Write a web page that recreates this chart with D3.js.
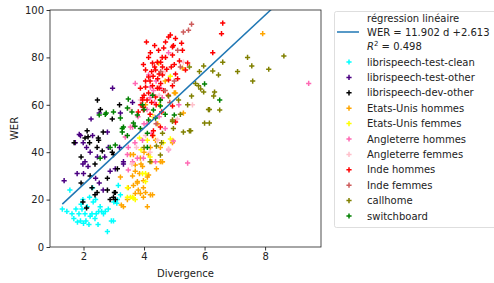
<!DOCTYPE html>
<html>
<head>
<meta charset="utf-8">
<script src="https://cdn.jsdelivr.net/npm/d3@7"></script>
<style>
  body { margin: 0; background: #fff; }
  text { font-family: "DejaVu Sans", sans-serif; fill: #222; }
</style>
</head>
<body>
<svg width="494" height="283"></svg>
<script>
// data: [divergence, WER] per series
var cleanPts = [[1.30,16],[1.45,15],[1.55,24],[1.62,14],[1.68,12],[1.75,16],[1.80,10.5],[1.85,14],[1.90,11],[1.95,16],[1.98,20],[2.05,14],[2.08,11],[2.12,17],[2.18,9.5],[2.22,13],[2.28,14],[2.32,19],[2.38,12],[2.42,14],[2.48,9.5],[2.50,15],[2.55,17],[2.60,15],[2.66,14],[2.72,15],[2.79,6.5],[2.82,16],[2.92,11],[3.00,19],[3.10,18.5],[3.15,26],[3.22,22],[2.20,21],[2.30,25],[1.92,18],[2.00,10],[2.40,20],[3.12,20],[2.99,11]];
var otherPts = [[1.36,28],[1.73,44],[1.79,31],[1.86,47.5],[1.99,44],[1.98,35],[2.05,36],[2.10,42],[2.22,40],[2.25,54],[2.30,47],[2.46,38],[2.52,56.5],[2.52,27],[2.65,24],[2.79,48.5],[2.82,42],[2.88,32],[2.96,67],[3.05,33],[3.19,42],[3.22,56.5],[3.32,35],[3.32,36],[3.62,61],[2.00,31],[1.90,47],[2.15,34],[2.40,29],[2.70,38]];
var devPts = [[1.69,44],[1.92,38],[1.92,27],[1.98,19],[2.10,16.5],[2.12,49],[2.15,46.5],[2.22,30],[2.28,25],[2.38,22],[2.38,35],[2.46,62],[2.49,46],[2.56,58],[2.45,23],[2.79,29],[2.79,24],[2.88,20],[2.95,54],[2.99,39],[3.05,23],[3.12,33],[3.19,60],[3.05,20],[2.45,42],[2.65,48.5],[2.62,40.5],[2.95,40],[3.02,23],[2.99,21],[2.05,46],[2.20,44],[2.50,45]];
var usMenPts = [[3.22,29.5],[3.25,17.7],[3.32,17],[3.45,20],[3.48,25],[3.62,30],[3.65,26],[3.65,39],[3.71,32],[3.71,34.6],[3.71,22.6],[3.78,27],[3.78,27.6],[3.81,24],[3.88,22.6],[3.88,37.5],[3.95,34],[3.98,21],[3.98,25],[3.98,28],[4.05,23],[4.11,17],[4.11,29.5],[4.15,30.4],[4.15,39],[4.21,42],[4.21,22],[4.28,22],[4.38,45],[4.54,36],[4.54,42],[4.61,36],[4.94,44],[4.41,33],[4.60,36],[5.30,56.5],[5.04,65],[5.27,75.5],[5.00,65],[4.48,77.6],[7.92,90],[3.55,39],[4.00,40],[4.30,47],[3.90,35],[4.45,52],[4.05,60],[4.70,70],[3.85,31],[4.25,36]];
var usWomenPts = [[3.45,25],[3.62,21],[3.71,20],[4.05,27.6],[3.95,31],[4.11,45],[4.05,31],[3.55,21],[3.65,20.6],[3.45,21],[4.94,45],[4.87,72],[4.87,45.6],[4.64,44],[4.20,38],[3.90,41],[4.30,55],[4.50,60],[3.85,46]];
var ukMenPts = [[3.38,46.4],[3.45,39],[3.48,42],[3.48,32.5],[3.55,50.6],[3.62,50.6],[3.62,36],[3.71,69],[3.78,37.5],[3.88,60],[3.98,37.5],[4.15,72.6],[4.21,67.5],[4.31,66],[4.38,36],[4.81,41],[4.81,82],[4.97,44.7],[5.44,35.4],[9.44,69],[3.70,44],[4.00,52],[4.10,58],[4.25,48],[4.50,55],[4.60,63],[3.95,45],[4.40,70],[5.15,60],[4.70,50],[4.20,63],[4.35,61],[4.55,67],[3.80,55],[4.10,52]];
var ukWomenPts = [[3.55,58],[3.88,62],[3.75,42],[4.05,47],[4.20,40],[4.35,55],[4.50,64],[4.81,41.4],[4.70,74],[5.10,54],[5.30,78],[3.60,35],[4.45,45],[5.60,60]];
var inMenPts = [[3.81,57],[3.88,67],[3.95,62],[3.95,63],[3.98,59],[3.98,57.8],[3.98,77],[4.05,67.5],[4.05,74.7],[4.08,86.5],[4.15,71.7],[4.15,65],[4.21,82],[4.28,77.6],[4.28,68],[4.31,49],[4.28,47],[4.38,74.7],[4.38,63.3],[4.44,78],[4.44,67],[4.48,83],[4.54,50.6],[4.61,76],[4.61,72.6],[4.71,86.5],[4.71,80],[4.81,88.6],[4.81,70.5],[4.87,89.5],[4.94,84.4],[4.94,81],[4.94,59.5],[4.94,68],[4.97,85],[5.04,73],[5.04,88],[5.04,52.7],[5.11,71],[5.17,78.5],[5.24,86],[5.27,83],[5.37,74.7],[5.44,77.6],[6.27,82],[6.56,90],[6.60,94.5],[4.20,70],[4.30,72],[4.50,73],[4.55,69],[4.65,66],[4.40,60],[4.10,62],[4.35,76],[4.60,80],[4.75,75],[4.00,64],[4.20,56],[4.45,71],[4.80,64],[4.25,61],[4.58,57],[5.00,77],[4.15,80],[4.35,85],[4.55,78],[4.65,84],[4.90,76],[4.25,74],[4.50,67],[4.05,70],[3.90,60]];
var inWomenPts = [[5.57,94],[5.30,90.7],[5.47,91.5],[5.11,83],[4.55,74],[4.70,66],[4.30,64],[5.00,70],[4.85,61],[5.20,76],[4.40,52]];
var callhomePts = [[5.97,76.4],[5.83,74],[6.60,78],[6.27,74.3],[6.46,72.6],[7.09,74],[7.42,80],[7.56,76.4],[8.12,75],[8.62,80.6],[7.59,70],[5.80,68],[5.87,66.7],[5.97,65.4],[6.33,65.4],[6.30,63.7],[5.57,63.7],[6.16,58],[6.50,57.8],[6.00,52.3],[6.16,52.3],[5.54,49],[5.14,62],[4.94,53],[5.30,48.5],[5.50,49],[6.13,58],[4.58,44],[4.61,48],[4.41,42.6],[4.94,53.6],[4.54,38.8],[5.50,76],[4.81,63.7],[4.54,62],[5.44,60],[4.97,50],[4.20,36],[4.00,42],[5.70,69],[5.20,56]];
var switchPts = [[2.52,55.7],[2.75,56.5],[2.72,56],[2.99,57],[3.22,54.4],[3.48,62.4],[3.45,58.6],[3.28,50],[3.65,52.3],[3.78,55.7],[3.88,50],[3.45,47],[3.05,43],[2.88,42],[2.55,37.5],[4.15,53.6],[4.31,57.8],[4.11,42],[4.54,62],[4.11,48],[3.28,48.5],[6.00,68.8],[6.50,62],[3.32,50.6],[5.00,55.7],[4.54,59.5],[4.28,64],[4.38,54.4],[3.70,51],[4.00,58],[3.60,57],[3.95,60],[4.70,56]];

var seriesNames = ["librispeech-test-clean", "librispeech-test-other", "librispeech-dev-other",
    "Etats-Unis hommes", "Etats-Unis femmes", "Angleterre hommes", "Angleterre femmes",
    "Inde hommes", "Inde femmes", "callhome", "switchboard"];
var seriesData = [cleanPts, otherPts, devPts, usMenPts, usWomenPts, ukMenPts, ukWomenPts,
    inMenPts, inWomenPts, callhomePts, switchPts];
var seriesColors = ["#00ffff", "#4b0082", "#000000", "#ffa500", "#ffff00", "#ff69b4", "#ffc0cb",
    "#ff0000", "#cd5c5c", "#808000", "#008000"];

var slope = 11.902, intercept = 2.613, r2 = 0.498;
var xTicks = [2, 4, 6, 8];
var yTicks = [0, 20, 40, 60, 80, 100];

var plotLeft = 50, plotRight = 321, plotTop = 10, plotBottom = 247;
var fontSize = "10px";

var svg = d3.select("svg");
svg.append("rect").attr("width", 494).attr("height", 283).attr("fill", "#fff");

var allX = d3.merge(seriesData).map(function(d) { return d[0]; });
var xMin = d3.min(allX), xMax = d3.max(allX);
var pad = (xMax - xMin) * 0.05;

var x = d3.scaleLinear().domain([xMin - pad, xMax + pad]).range([plotLeft, plotRight]);
var y = d3.scaleLinear().domain([0, 100]).range([plotBottom, plotTop]);

svg.append("clipPath").attr("id", "plot-clip")
    .append("rect")
    .attr("x", plotLeft).attr("y", plotTop)
    .attr("width", plotRight - plotLeft).attr("height", plotBottom - plotTop);

var plot = svg.append("g").attr("clip-path", "url(#plot-clip)");

// scatter points, drawn as "+" markers
seriesData.forEach(function(pts, i) {
    plot.append("g")
        .selectAll("path")
        .data(pts)
        .enter()
        .append("path")
        .attr("transform", function(d) {
            return "translate(" + x(d[0]) + "," + y(d[1]) + ")";
        })
        .attr("d", "M-2.6,0H2.6M0,-2.6V2.6")
        .attr("stroke", seriesColors[i])
        .attr("stroke-width", 1.5)
        .attr("fill", "none");
});

// regression line
plot.append("line")
    .attr("x1", x(xMin)).attr("y1", y(slope * xMin + intercept))
    .attr("x2", x(xMax)).attr("y2", y(slope * xMax + intercept))
    .attr("stroke", "#1f77b4")
    .attr("stroke-width", 1.5);

// axes
var xAxis = svg.append("g")
    .attr("transform", "translate(0," + plotBottom + ")")
    .call(d3.axisBottom(x).tickValues(xTicks).tickSize(3.5).tickPadding(2.5).tickFormat(d3.format("d")));
var yAxis = svg.append("g")
    .attr("transform", "translate(" + plotLeft + ",0)")
    .call(d3.axisLeft(y).tickValues(yTicks).tickSize(3.5).tickPadding(2.5).tickFormat(d3.format("d")));

[xAxis, yAxis].forEach(function(a) {
    a.select(".domain").remove();
    a.selectAll("line").attr("stroke", "#000").attr("stroke-width", 0.8);
    a.selectAll("text").attr("fill", "#222").style("font-size", fontSize)
        .style("font-family", "DejaVu Sans, sans-serif");
});

svg.append("rect")
    .attr("x", plotLeft).attr("y", plotTop)
    .attr("width", plotRight - plotLeft).attr("height", plotBottom - plotTop)
    .attr("fill", "none")
    .attr("stroke", "#222")
    .attr("stroke-width", 0.8);

svg.append("text")
    .attr("x", (plotLeft + plotRight) / 2).attr("y", 277)
    .attr("text-anchor", "middle")
    .style("font-size", fontSize)
    .text("Divergence");

svg.append("text")
    .attr("transform", "translate(18," + ((plotTop + plotBottom) / 2) + ") rotate(-90)")
    .attr("text-anchor", "middle")
    .style("font-size", fontSize)
    .text("WER");

// legend
var legend = svg.append("g");
legend.append("rect")
    .attr("x", 334.5).attr("y", 11.5)
    .attr("width", 170).attr("height", 216)
    .attr("rx", 2)
    .attr("fill", "#fff")
    .attr("stroke", "#d6d6d6")
    .attr("stroke-width", 0.8);

legend.append("line")
    .attr("x1", 337).attr("x2", 359)
    .attr("y1", 32).attr("y2", 32)
    .attr("stroke", "#1f77b4")
    .attr("stroke-width", 1.5);

var regText = legend.append("text").style("font-size", fontSize);
regText.append("tspan").attr("x", 367).attr("y", 21.5).text("régression linéaire");
regText.append("tspan").attr("x", 367).attr("y", 35.5)
    .text("WER = " + slope + " d +" + intercept);
var r2Line = legend.append("text").attr("x", 367).attr("y", 50).style("font-size", fontSize);
r2Line.append("tspan").style("font-style", "italic").text("R");
r2Line.append("tspan").attr("dy", -4).style("font-size", "7px").text("2");
r2Line.append("tspan").attr("dy", 4).text(" = " + r2);

var entries = legend.selectAll(".entry")
    .data(seriesNames)
    .enter()
    .append("g")
    .attr("transform", function(d, i) {
        return "translate(0," + (62 + i * 15.4) + ")";
    });

entries.append("path")
    .attr("transform", "translate(349,0)")
    .attr("d", "M-2.6,0H2.6M0,-2.6V2.6")
    .attr("stroke", function(d, i) { return seriesColors[i]; })
    .attr("stroke-width", 1.5);

entries.append("text")
    .attr("x", 367).attr("y", 3.6)
    .style("font-size", fontSize)
    .text(function(d) { return d; });
</script>
</body>
</html>
